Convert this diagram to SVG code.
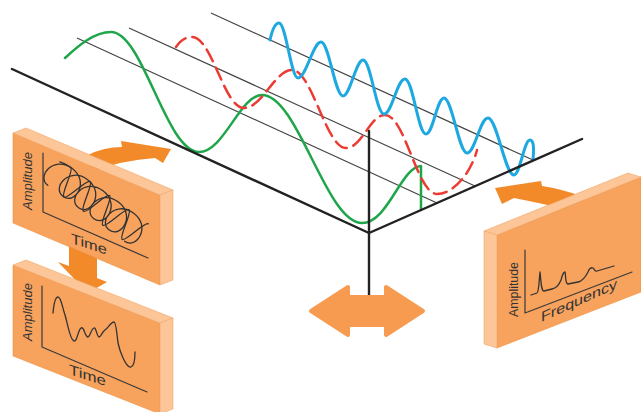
<svg xmlns="http://www.w3.org/2000/svg" width="641" height="412" viewBox="0 0 641 412">
  <style>
    .front { fill: #F7A25D; stroke: #EE9242; stroke-width: 0.6; }
    .edge { fill: #FCC699; stroke: #F2A665; stroke-width: 0.6; }
    .arrow { fill: #F28A2A; }
    .dbl { fill: #F79B50; stroke: #F79B50; stroke-width: 4; stroke-linejoin: round; }
    .plot { fill: none; stroke: #3a3a3a; stroke-width: 1.2; stroke-linejoin: round; stroke-linecap: round; }
    .trace { fill: none; stroke: #333; stroke-width: 1.3; stroke-linejoin: round; stroke-linecap: round; }
    .lbl { font-family: "Liberation Sans", Arial, sans-serif; fill: #333; }
    .grid { stroke: #444; stroke-width: 1.2; fill: none; }
    .axis { stroke: #222; stroke-width: 2.4; fill: none; stroke-linecap: round; }
    .wave { fill: none; stroke-linecap: round; stroke-linejoin: round; }
  </style>

  <!-- spatial frame: thin time lines, waves, thick axes -->
  <g id="frame">
    <path class="grid" d="M77,38 L437,203"/>
    <path class="grid" d="M129,28 L475,186"/>
    <path class="grid" d="M211,13 L533,160"/>
  </g>

  <g id="wave-low">
    <path class="wave" stroke="#1FA64A" stroke-width="2.5"
          d="M65,58 C78,46 94,32 111,32 C143,32 166,152 199,152 C224,152 240,95 262,95 C298,95 326,223 362,223 C388,223 401,167 421,166 L421,210"/>
  </g>
  <g id="wave-mid">
    <path class="wave" stroke="#EC3B33" stroke-width="2.5" stroke-dasharray="13 7"
          d="M176,47 C180,41 185,37 192,37 C212,37 224,108 244,108 C262,108 275,70 292,70 C312,70 326,148 346,148 C362,148 370,115 385,115 C405,115 417,194 437,194 C455,194 472,170 477,150"/>
  </g>
  <g id="wave-high">
    <path class="wave" stroke="#1EA8E0" stroke-width="3"
          d="M270,40 C272,31 275,23 279,23 C286,23 291,78 298,78 C306,78 313,42 321,42 C329,42 335,96 343,96 C350,96 356,60 363,60 C371,60 376,114 384,114 C392,114 397,79 405,79 C413,79 418,134 426,134 C433,134 437,98 444,98 C452,98 459,153 467,153 C475,153 480,118 488,118 C497,118 505,175 514,175 C520,175 524,140 530,140 C534,140 534,150 533,159"/>
  </g>

  <g id="axes">
    <path class="axis" d="M12,69 L369,233 L582,139"/>
    <path class="axis" d="M369,131 L369,298"/>
  </g>

  <!-- connectors: block arrows -->
  <g id="connectors">
    <path class="arrow" d="M88,155 Q104,147 122,147 L121,141 L171,149 L163,163 L155,158 Q122,160 92,172 Z"/>
    <path class="arrow" d="M69,236 L97,236 L97,278 L107,282 L88,293 L58,262 L69,266 Z"/>
    <path class="arrow" d="M495,188 L541,181 L542,186 Q562,189 584,197 L584,215 Q565,208 514,198 L502,204 Z"/>
    <path class="dbl" d="M311,311 L348,287 L348,297 L386,297 L386,287 L423,311 L386,335 L386,325 L348,325 L348,335 Z"/>
  </g>

  <!-- time-domain panel: summed signal -->
  <g id="panel-time-sum">
    <path class="front" d="M13,133 L160,195 L160,285 L13,223 Z"/>
    <path class="edge" d="M13,133 L26,128 L173,190 L160,195 Z"/>
    <path class="edge" d="M160,195 L173,190 L173,280 L160,285 Z"/>
    <path class="plot" d="M43,153 L43,212 L148,258"/>
    <g transform="translate(56,174) rotate(36)">
      <path class="trace" d="M0,14 C-14.7,14 -13.1,-14 9.5,-14 S33.7,14 19,14 S5.9,-14 28.5,-14 S52.7,14 38,14 S24.9,-14 47.5,-14 S71.7,14 57,14 S43.9,-14 66.5,-14 S90.7,14 76,14 S62.9,-14 85.5,-14 S109.7,14 95,14"/>
      <path class="trace" d="M-4,-12 C1,-14 4.4,-14 8,-14 C12.4,-14 15.6,14 20,14 S27.6,-14 32,-14 S39.6,14 44,14 S51.6,-14 56,-14 S63.6,14 68,14 S75.6,-14 80,-14 S87.6,14 92,14 S99.6,-14 104,-14"/>
    </g>
    <text class="lbl" font-size="13" font-style="italic" transform="translate(32,210) rotate(-90)" textLength="58" lengthAdjust="spacingAndGlyphs">Amplitude</text>
    <text class="lbl" font-size="14" transform="translate(71,243) skewY(18)" textLength="36" lengthAdjust="spacingAndGlyphs">Time</text>
  </g>

  <!-- time-domain panel: single component -->
  <g id="panel-time-signal">
    <path class="front" d="M13,265 L160,323 L160,414 L13,356 Z"/>
    <path class="edge" d="M13,265 L26,260 L173,318 L160,323 Z"/>
    <path class="edge" d="M160,323 L173,318 L173,409 L160,414 Z"/>
    <path class="plot" d="M42,286 L42,347 L147,392"/>
    <path class="trace" d="M53,313 C54,302 56,297 58,297 C61,297 62,306 65,315 C68,325 70,340 74,341 C77,342 78,330 81,328 C84,326 85,337 88,337 C90,337 91,329 94,328 C96,327 97,337 99,337 C101,337 102,332 105,330 C108,328 111,322 114,322 C116,322 117,335 118,343 C120,352 126,368 131,367 C134,366 135,358 135,352"/>
    <text class="lbl" font-size="13" font-style="italic" transform="translate(32,341) rotate(-90)" textLength="58" lengthAdjust="spacingAndGlyphs">Amplitude</text>
    <text class="lbl" font-size="14" transform="translate(69,374) skewY(18)" textLength="37" lengthAdjust="spacingAndGlyphs">Time</text>
  </g>

  <!-- frequency-domain panel -->
  <g id="panel-frequency">
    <path class="front" d="M497,235 L641,177 L641,292 L497,348 Z"/>
    <path class="edge" d="M484,231 L628,173 L641,177 L497,235 Z"/>
    <path class="edge" d="M484,231 L497,235 L497,348 L484,344 Z"/>
    <path class="plot" d="M525,250 L525,313 L632,272"/>
    <path class="trace" d="M531,295 L537,293 C539,292 539,280 540,272 C541,280 541,291 544,291 L552,289 C557,288 559,285 561,280 C562,276 563,272 565,272 C566,276 565,284 568,284 L578,282 C583,281 586,276 588,272 C589,269 591,267 593,268 C595,269 594,272 597,271 L614,266"/>
    <text class="lbl" font-size="12.5" transform="translate(518,317) rotate(-90)" textLength="55" lengthAdjust="spacingAndGlyphs">Amplitude</text>
    <text class="lbl" font-size="14" transform="translate(541,322) skewY(-24)" textLength="76" lengthAdjust="spacingAndGlyphs">Frequency</text>
  </g>
</svg>
